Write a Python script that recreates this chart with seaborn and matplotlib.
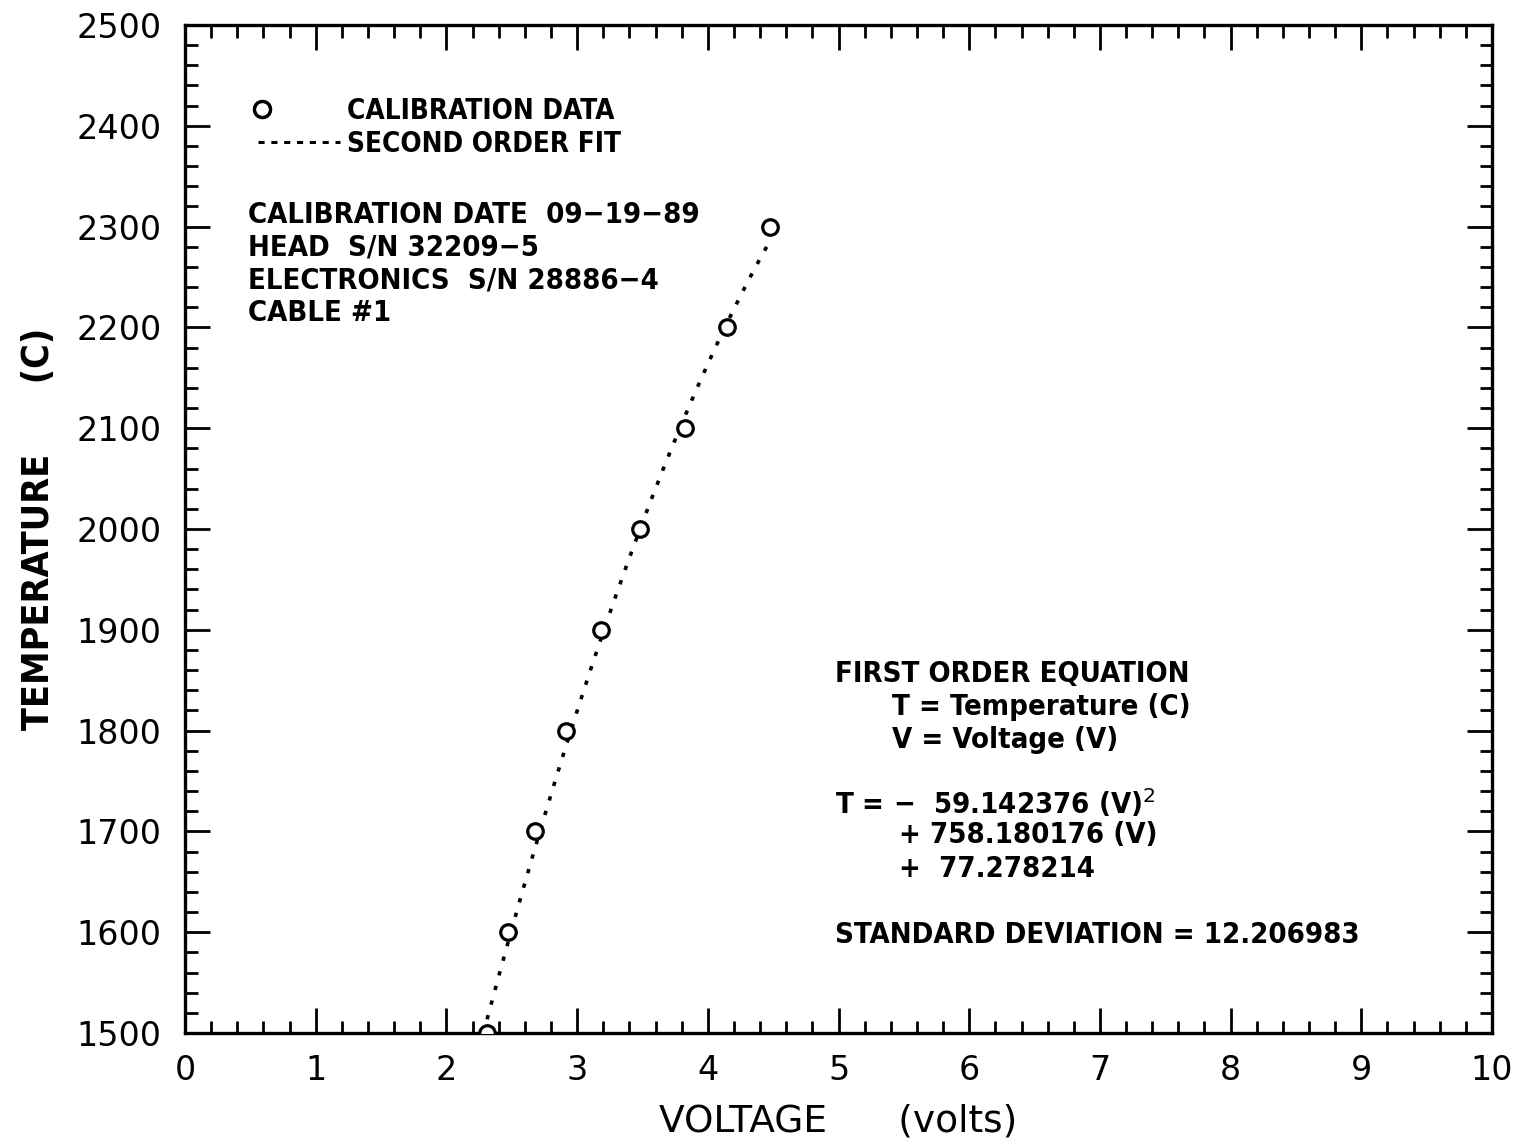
import numpy as np
import pandas as pd
import matplotlib
matplotlib.use("Agg")
import matplotlib.pyplot as plt
from matplotlib.lines import Line2D
from matplotlib.legend_handler import HandlerLine2D
from matplotlib.ticker import MultipleLocator
import seaborn as sns

# ---- data ----
voltage = [2.311, 2.471, 2.678, 2.915, 3.183, 3.481, 3.826, 4.145, 4.476]
temperature = [1500, 1600, 1700, 1800, 1900, 2000, 2100, 2200, 2300]
# second order fit coefficients printed on the chart: a*V^2 + b*V + c
fit_coeffs = [-59.142376, 758.180176, 77.278214]

x_ticks = [0, 1, 2, 3, 4, 5, 6, 7, 8, 9, 10]
y_ticks = [1500, 1600, 1700, 1800, 1900, 2000, 2100, 2200, 2300, 2400, 2500]

info_lines = ["CALIBRATION DATE  09\u221219\u221289",
              "HEAD  S/N 32209\u22125",
              "ELECTRONICS  S/N 28886\u22124",
              "CABLE #1"]

sns.set_theme(style="ticks")
plt.rcParams['font.family'] = ['DejaVu Sans']

df = pd.DataFrame({"V": voltage, "T": temperature})
v_fit = np.linspace(min(voltage), max(voltage), 200)
t_fit = np.polyval(fit_coeffs, v_fit)
df_fit = pd.DataFrame({"V": v_fit, "T": t_fit})

fig = plt.figure(figsize=(15.14, 11.47), dpi=100)
ax = fig.add_axes([0.1222, 0.0994, 0.8633, 0.8788])

sns.lineplot(data=df_fit, x="V", y="T", ax=ax, color="black",
             linestyle=(0, (1.2, 3.0)), linewidth=2.6, sort=False)
sns.scatterplot(data=df, x="V", y="T", ax=ax, marker="o", s=125,
                facecolor="white", edgecolor="black", linewidth=2.3, zorder=5)

ax.set_xlim(0, 10)
ax.set_ylim(1500, 2500)
ax.set_xticks(x_ticks)
ax.set_yticks(y_ticks)
ax.xaxis.set_minor_locator(MultipleLocator(0.2))
ax.yaxis.set_minor_locator(MultipleLocator(20))
ax.tick_params(which="both", direction="in", top=True, right=True,
               color="black", width=2.0)
ax.tick_params(which="major", length=18, labelsize=24)
ax.tick_params(axis="y", which="major", pad=17)
ax.tick_params(axis="x", which="major", pad=15)
ax.tick_params(which="minor", length=9)
for sp in ax.spines.values():
    sp.set_linewidth(2.4)
    sp.set_color("black")
    sp.set_visible(True)
for lbl in ax.get_xticklabels() + ax.get_yticklabels():
    lbl.set_color("black")

ax.set_xlabel("VOLTAGE      (volts)", fontsize=27, labelpad=12, color="black")
ax.set_ylabel("TEMPERATURE      (C)", fontsize=27, labelpad=14, color="black",
              fontweight="bold", fontstretch="condensed")


class LeftMarkerHandler(HandlerLine2D):
    def get_numpoints(self, legend):
        return 2

    def get_xdata(self, legend, xdescent, ydescent, width, height, fontsize):
        xm = -xdescent + 0.05 * width
        return np.array([xm, xm]), np.array([xm, xm])


h_data = Line2D([], [], linestyle="none", marker="o", markersize=11.5,
                markerfacecolor="white", markeredgecolor="black",
                markeredgewidth=2.4)
h_fit = Line2D([], [], color="black", linestyle=(0, (2, 2.2)), linewidth=2.2)
leg = ax.legend([h_data, h_fit], ["CALIBRATION DATA", "SECOND ORDER FIT"],
                loc="upper left", bbox_to_anchor=(0.056, 0.929),
                frameon=False, handlelength=2.95, handletextpad=0.25,
                labelspacing=0.2, borderpad=0, borderaxespad=0,
                labelcolor="black",
                prop={"size": 20, "weight": "bold", "stretch": "condensed"},
                handler_map={h_data: LeftMarkerHandler()})

txt_kw = dict(transform=ax.transAxes, fontsize=21, fontweight="bold",
              fontstretch="condensed", color="black", va="center", ha="left")
for i, line in enumerate(info_lines):
    ax.text(0.0482, 0.8115 - i * 0.0325, line, **txt_kw)

ax.text(0.497, 0.356, "FIRST ORDER EQUATION", **txt_kw)
ax.text(0.541, 0.323, "T = Temperature (C)", **txt_kw)
ax.text(0.541, 0.291, "V = Voltage (V)", **txt_kw)
ax.text(0.497, 0.228, "T = \u2212  59.142376 (V)$^2$", **txt_kw)
ax.text(0.546, 0.196, "+ 758.180176 (V)", **txt_kw)
ax.text(0.546, 0.163, "+  77.278214", **txt_kw)
ax.text(0.497, 0.097, "STANDARD DEVIATION = 12.206983", **txt_kw)

fig.savefig("out.png", dpi=100, facecolor="white")
